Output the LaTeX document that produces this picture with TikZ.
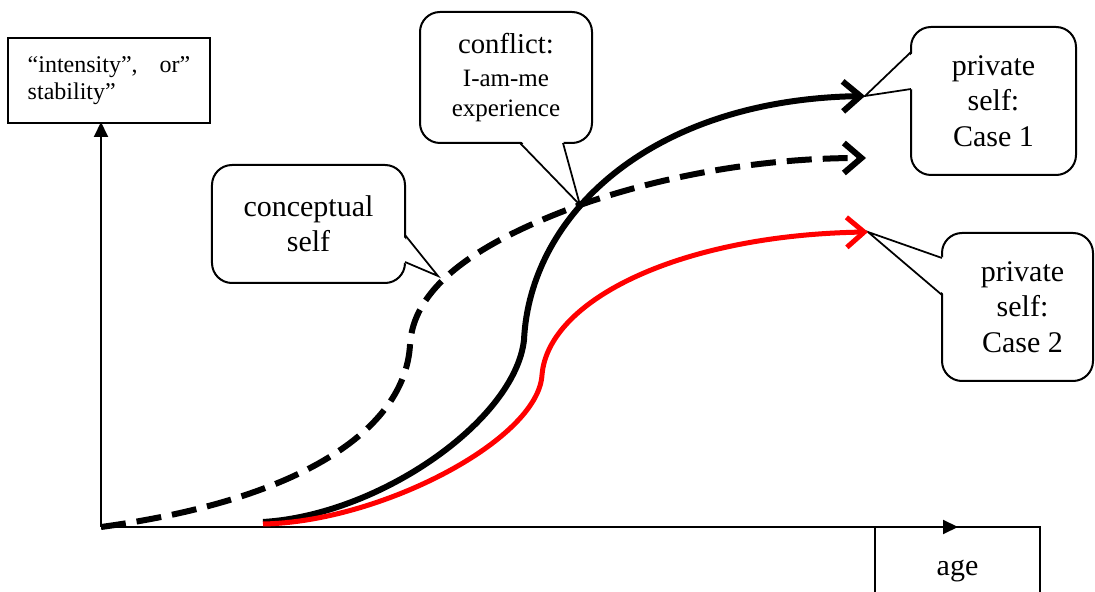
\documentclass[tikz,border=0pt]{standalone}
\usepackage{fontspec}
\setmainfont{Liberation Serif}
\usetikzlibrary{arrows.meta,calc}

% callout pointer: base a, tip, base b, inward shift
\newcommand{\callptr}[4]{%
  \fill[white] ($#1+#4$) -- #2 -- ($#3+#4$) -- cycle;
  \draw[ptr] #1 -- #2 -- #3;}

\begin{document}
\begin{tikzpicture}[x=0.4pt,y=-0.4pt,
  callbox/.style={draw,line width=0.8pt,rounded corners=8pt,fill=white,align=center,inner sep=0pt},
  plainbox/.style={draw,line width=0.5pt,inner sep=0pt},
  axis/.style={line width=0.8pt,-{Triangle[length=6pt,width=5.6pt]}},
  growth/.style={line width=2.4pt,-{Straight Barb[length=7pt,width=12pt]}},
  ptr/.style={line width=0.7pt,line join=miter}]
\useasboundingbox (0,0) rectangle (1095,592);

% axes
\coordinate (origin) at (101,527);
\coordinate (ytop) at (101,122);
\coordinate (xend) at (958,527);
\draw[axis] (origin) -- (ytop);
\draw[axis] (origin) -- (xend);

\node[plainbox,minimum width=80.8pt,minimum height=34pt,text width=65pt,align=left,
  font=\fontsize{9.6}{10.5}\selectfont] (ylab) at (109,80.5) {“intensity”,\hfill or”\\stability”};
\node[plainbox,minimum width=66pt,minimum height=35.2pt,font=\fontsize{12}{14}\selectfont] (xlab) at (957.5,571) {age};

% callouts
\node[callbox,minimum width=77.2pt,minimum height=47.2pt,font=\fontsize{12}{14}\selectfont] (cself) at (308.5,224) {conceptual\\self};
\node[callbox,minimum width=68.8pt,minimum height=52.4pt,font=\fontsize{10}{12}\selectfont] (confl) at (506,77.5) {{\fontsize{11.5}{13}\selectfont conflict:}\\[1pt]I-am-me\\experience};
\node[callbox,minimum width=66pt,minimum height=59.2pt,font=\fontsize{12}{14.2}\selectfont] (case1) at (993.5,101) {private\\self:\\Case 1};
\node[callbox,minimum width=60.4pt,minimum height=59.2pt,font=\fontsize{12}{14.2}\selectfont] (case2) at (1017.5,307) {\hspace*{4pt}private\\\hspace*{4pt}self:\\\hspace*{4pt}Case 2};

\coordinate (tipc) at (438,276);
\coordinate (tipx) at (580,205);
\coordinate (tip1) at (865,96);
\coordinate (tipd) at (866,158);
\coordinate (tip2) at (868,232);

\callptr{(405,235)}{(tipc)}{(405,262)}{(-3,0)}
\callptr{(520,143)}{(tipx)}{(563,143)}{(0,-3)}
\callptr{(911,52)}{(tip1)}{(911,89)}{(3,0)}
\callptr{(942,258)}{(tip2)}{(942,295)}{(3,0)}

% curves
\draw[growth,dash pattern=on 10pt off 4.4pt] (origin) .. controls (300,500) and (405,430) .. (410,345)
  .. controls (413,290) and (470,245) .. (tipx) .. controls (680,170) and (780,158) .. (tipd);
\draw[growth] (263,522) .. controls (380,515) and (515,420) .. (524,340)
  .. controls (530,215) and (650,100) .. (tip1);
\draw[growth,red,line width=2pt] (263,524) .. controls (380,522) and (538,440) .. (542,375)
  .. controls (548,300) and (680,235) .. (tip2);
\end{tikzpicture}
\end{document}
